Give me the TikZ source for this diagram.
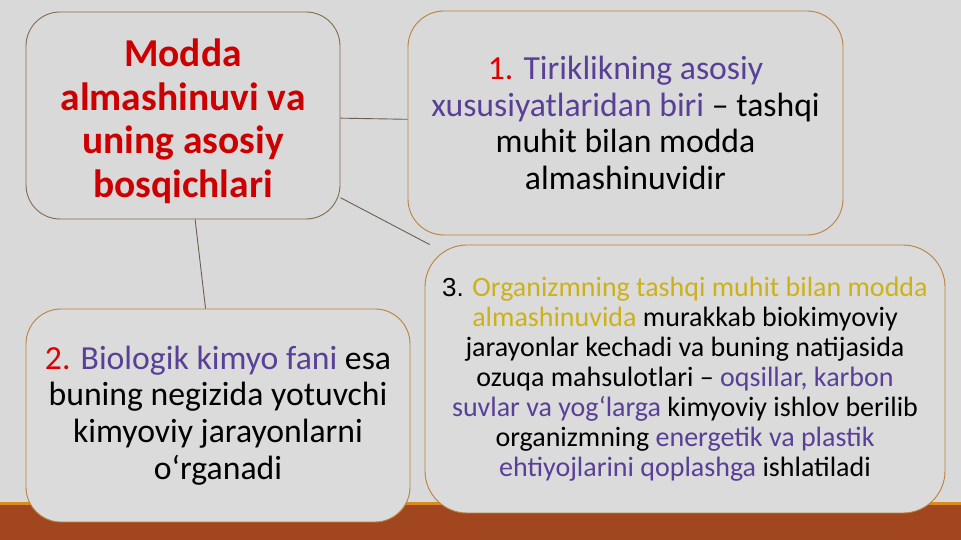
\documentclass[tikz,border=0pt]{standalone}
\usepackage{fontspec}
\setmainfont{Carlito}
\newfontfamily\numfont{Liberation Sans}
\usepackage{xcolor}
\usepackage{tikz}
\usetikzlibrary{positioning}
\definecolor{slidegray}{HTML}{D9D9D9}
\definecolor{boxfill}{HTML}{DBDBDB}
\definecolor{bandbrown}{HTML}{A1461F}
\definecolor{bandline}{HTML}{DB8A1F}
\definecolor{boxline}{HTML}{B9833F}
\definecolor{linkgray}{HTML}{6E5F4E}
\definecolor{titlered}{HTML}{CC0000}
\definecolor{numred}{HTML}{E00000}
\definecolor{purp}{HTML}{5A3F96}
\definecolor{gold}{HTML}{CCB11A}
\tikzset{
  stage/.style={draw=boxline, line width=0.9pt, fill=boxfill, align=center, inner sep=0pt},
  link/.style={draw=linkgray, line width=0.9pt}
}

\begin{document}
\begin{tikzpicture}[x=1pt, y=1pt]
  % Background and bottom band
  \fill[slidegray] (0,0) rectangle (961,540);
  \fill[bandbrown] (0,0) rectangle (961,35);
  \fill[bandline] (0,35) rectangle (961,38);
  \useasboundingbox (0,0) rectangle (961,540);

  % Nodes
  \node[stage, draw=linkgray!70!boxline, fill=slidegray, rounded corners=34pt, minimum width=314pt, minimum height=207pt,
        font=\bfseries\fontsize{39.5}{43.5}\selectfont, text=titlered] (topic) at (183,424.5)
       {\rule{0pt}{39pt}Modda\\ almashinuvi va\\ uning asosiy\\ bosqichlari};
  \node[stage, fill=slidegray, rounded corners=36pt, minimum width=435pt, minimum height=224pt,
        font=\fontsize{33.7}{36.8}\selectfont] (step1) at (625.5,417)
       {{\color{numred}1.} {\color{purp}Tiriklikning asosiy}\\
        {\color{purp}xususiyatlaridan biri} – tashqi\\ muhit bilan modda\\ almashinuvidir};
  \node[stage, rounded corners=35pt, minimum width=384pt, minimum height=213pt,
        font=\fontsize{33.7}{36.8}\selectfont] (step2) at (218,124.5)
       {{\color{numred}2.} {\color{purp}Biologik kimyo fani} esa\\
        buning negizida yotuvchi\\ kimyoviy jarayonlarni\\ o‘rganadi};
  \node[stage, rounded corners=42pt, minimum width=520pt, minimum height=268pt,
        font=\fontsize{28}{30}\selectfont] (step3) at (685,161)
       {{\numfont\fontsize{26}{30}\selectfont 3.} {\color{gold}Organizmning tashqi muhit bilan modda}\\
        {\color{gold}almashinuvida} murakkab biokimyoviy\\
        jarayonlar kechadi va buning natijasida\\
        ozuqa mahsulotlari – {\color{purp}oqsillar, karbon}\\
        {\color{purp}suvlar va yog‘larga} kimyoviy ishlov berilib\\
        organizmning {\color{purp}energetik va plastik}\\
        {\color{purp}ehtiyojlarini qoplashga} ishlatiladi};

  % Connectors
  \draw[link] (topic) -- (step1);
  \draw[link] (topic) -- (step2);
  \draw[link] (topic) -- (step3);
\end{tikzpicture}
\end{document}
